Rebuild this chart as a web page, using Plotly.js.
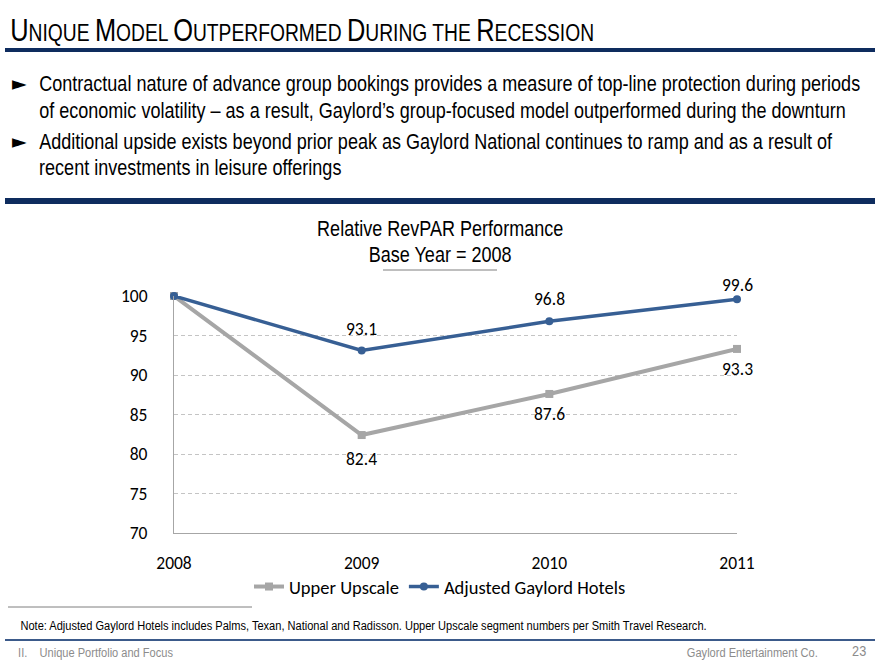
<!DOCTYPE html>
<html>
<head>
<meta charset="utf-8">
<script src="https://cdn.plot.ly/plotly-3.0.1.min.js"></script>
<style>
html,body{margin:0;padding:0;background:#fff;}
#chart{width:880px;height:660px;}
</style>
</head>
<body>
<div id="chart"></div>
<script>
// ---- data ----
const years = [2008, 2009, 2010, 2011];
const upperUpscale = [100, 82.4, 87.6, 93.3];
const adjustedGaylord = [100, 93.1, 96.8, 99.6];
const upperLabels = ['', '82.4', '87.6', '93.3'];
const adjustedLabels = ['', '93.1', '96.8', '99.6'];
const yTicks = [70, 75, 80, 85, 90, 95, 100];
const xTicks = ['2008', '2009', '2010', '2011'];

// ---- geometry helpers (plot area in pixels) ----
const L = 174, R = 737, T = 296, B = 533;
const W = 880, Hh = 660;
const px = x => (x - L) / (R - L);
const py = y => (B - y) / (B - T);

const SANS = '"Liberation Sans", Arial, sans-serif';
const CAL = 'Carlito, Calibri, Lato, "Open Sans", sans-serif';
const navy = '#0E2C5E';
const blue = '#375F94';
const gray = '#A6A6A6';
const NARROW_SCALE = 0.82;

const traces = [
  {
    x: years, y: upperUpscale, name: 'Upper Upscale', type: 'scatter', mode: 'lines+markers',
    line: {color: gray, width: 4}, marker: {symbol: 'square', size: 8, color: gray},
    cliponaxis: false
  },
  {
    x: years, y: adjustedGaylord, name: 'Adjusted Gaylord Hotels', type: 'scatter', mode: 'lines+markers',
    line: {color: blue, width: 3.5}, marker: {symbol: 'circle', size: 8, color: blue},
    cliponaxis: false
  }
];

const annotations = [];
const condense = [];  // indices of annotations drawn in a narrow style
// data labels
years.forEach((yr, i) => {
  if (adjustedLabels[i]) annotations.push({
    x: yr, y: adjustedGaylord[i], xref: 'x', yref: 'y', text: adjustedLabels[i], showarrow: false,
    yshift: i === 3 ? 14 : 22, font: {family: CAL, size: 17.5, color: '#000'}
  });
  if (upperLabels[i]) annotations.push({
    x: yr, y: upperUpscale[i], xref: 'x', yref: 'y', text: upperLabels[i], showarrow: false,
    yshift: i === 1 ? -24 : -20, font: {family: CAL, size: 17.5, color: '#000'}
  });
});

function big(t){ return '<span style="font-size:31px">' + t + '</span>'; }
const titleHtml = big('U') + 'NIQUE ' + big('M') + 'ODEL ' + big('O') + 'UTPERFORMED ' + big('D') + 'URING THE ' + big('R') + 'ECESSION';

function addText(opts, narrow){
  annotations.push(Object.assign({xref:'paper', yref:'paper', showarrow:false, yanchor:'middle'}, opts));
  if (narrow) condense.push(annotations.length - 1);
}

addText({x: px(10), y: py(83), xanchor:'left', text: '►', font:{family: 'DejaVu Sans, sans-serif', size: 19, color:'#000'}}, false);
addText({x: px(10), y: py(141), xanchor:'left', text: '►', font:{family: 'DejaVu Sans, sans-serif', size: 19, color:'#000'}}, false);
addText({x: px(8), y: py(30), xanchor:'left', text: titleHtml, font:{family: SANS, size: 23.5, color:'#000'}}, true);
addText({x: px(37), y: py(83), xanchor:'left',
  text: 'Contractual nature of advance group bookings provides a measure of top-line protection during periods',
  font:{family: SANS, size: 22, color:'#000'}}, true);
addText({x: px(37), y: py(110), xanchor:'left',
  text: 'of economic volatility \u2013 as a result, Gaylord\u2019s group-focused model outperformed during the downturn',
  font:{family: SANS, size: 22, color:'#000'}}, true);
addText({x: px(37), y: py(141), xanchor:'left',
  text: 'Additional upside exists beyond prior peak as Gaylord National continues to ramp and as a result of',
  font:{family: SANS, size: 22, color:'#000'}}, true);
addText({x: px(37), y: py(167), xanchor:'left',
  text: 'recent investments in leisure offerings',
  font:{family: SANS, size: 22, color:'#000'}}, true);
addText({x: px(440), y: py(229), xanchor:'center', text: 'Relative RevPAR Performance', font:{family: SANS, size: 22, color:'#000'}}, true);
addText({x: px(440), y: py(254), xanchor:'center', text: 'Base Year = 2008', font:{family: SANS, size: 22, color:'#000'}}, true);
addText({x: px(18), y: py(625), xanchor:'left',
  text: 'Note: Adjusted Gaylord Hotels includes Palms, Texan, National and Radisson. Upper Upscale segment numbers per Smith Travel Research.',
  font:{family: SANS, size: 13.5, color:'#000'}}, true);
addText({x: px(16), y: py(652), xanchor:'left', text: 'II.    Unique Portfolio and Focus', font:{family: SANS, size: 13.5, color:'#8C8C8C'}}, true);
addText({x: px(820), y: py(652), xanchor:'right', text: 'Gaylord Entertainment Co.', font:{family: SANS, size: 13.5, color:'#8C8C8C'}}, true);
addText({x: px(868), y: py(650), xanchor:'right', text: '23', font:{family: SANS, size: 15.5, color:'#8C8C8C'}}, true);

const shapes = [
  {type:'line', xref:'paper', yref:'paper', x0: px(5), x1: px(875), y0: py(50), y1: py(50), line:{color: navy, width: 4}},
  {type:'rect', xref:'paper', yref:'paper', x0: px(5), x1: px(875), y0: py(198), y1: py(204), line:{width:0}, fillcolor: navy},
  {type:'line', xref:'paper', yref:'paper', x0: px(383), x1: px(497), y0: py(270), y1: py(270), line:{color:'#7F7F7F', width:1}},
  {type:'line', xref:'paper', yref:'paper', x0: px(8), x1: px(252), y0: py(607), y1: py(607), line:{color:'#7F7F7F', width:1}},
  {type:'line', xref:'paper', yref:'paper', x0: px(5), x1: px(875), y0: py(640), y1: py(640), line:{color:'#3B5A8A', width:2}}
];

const layout = {
  width: W, height: Hh,
  margin: {l: L, r: W - R, t: T, b: Hh - B, pad: 0},
  paper_bgcolor: '#fff', plot_bgcolor: '#fff',
  showlegend: true,
  legend: {orientation: 'h', x: px(440), xanchor: 'center', y: py(587), yanchor: 'middle',
           font: {family: CAL, size: 18.5, color: '#000'}, tracegroupgap: 0,
           bgcolor: 'rgba(0,0,0,0)'},
  xaxis: {
    range: [2008, 2011], tickvals: years, ticktext: xTicks, showgrid: false, zeroline: false,
    showline: true, linecolor: '#A6A6A6', linewidth: 1, ticks: '', ticklabelstandoff: 14,
    tickfont: {family: CAL, size: 17.5, color: '#000'}, fixedrange: true
  },
  yaxis: {
    range: [70, 100], tickvals: yTicks, showgrid: true, gridcolor: '#C4C4C4', griddash: '4px,3px', gridwidth: 1,
    zeroline: false, showline: true, linecolor: '#A6A6A6', linewidth: 1, ticks: '', ticklabelstandoff: 22,
    tickfont: {family: CAL, size: 17.5, color: '#000'}, fixedrange: true
  },
  annotations: annotations,
  shapes: shapes
};

Plotly.newPlot('chart', traces, layout, {displayModeBar: false, staticPlot: true}).then(gd => {
  // emulate a narrow (Arial Narrow-like) face by condensing the text horizontally
  condense.forEach(i => {
    const t = gd.querySelector('.annotation[data-index="' + i + '"] text.annotation-text');
    if (!t) return;
    const bb = t.getBBox();
    const anch = annotations[i].xanchor;
    const a = anch === 'left' ? bb.x : anch === 'right' ? bb.x + bb.width : bb.x + bb.width / 2;
    t.setAttribute('transform', 'translate(' + a + ',0) scale(' + NARROW_SCALE + ',1) translate(' + (-a) + ',0)');
  });
});
</script>
</body>
</html>
